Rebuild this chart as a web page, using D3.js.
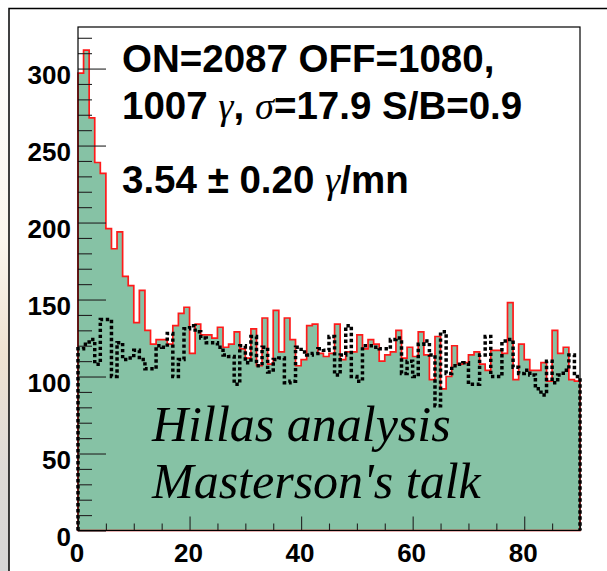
<!DOCTYPE html>
<meta charset="utf-8" />
<head>
  <script src="https://cdn.jsdelivr.net/npm/d3@7/dist/d3.min.js"></script>
  <title>Hillas analysis</title>
  <style>
    body {
      margin: 0;
      background: #fff;
    }
    svg {
      display: block;
    }
    .lab {
      font-family: "Liberation Sans", Arial, sans-serif;
      font-weight: bold;
      font-size: 26px;
      fill: #000;
    }
    .ann {
      font-family: "Liberation Sans", Arial, sans-serif;
      font-weight: bold;
      font-size: 38.5px;
    }
    .greek {
      font-family: "Liberation Serif", "Times New Roman", serif;
      font-style: italic;
      font-weight: normal;
    }
    .note {
      font-family: "Liberation Serif", "Times New Roman", serif;
      font-style: italic;
      font-size: 50px;
    }
  </style>
</head>
<body>
  <svg id="chart" width="607" height="571"></svg>
</body>

<script>
  // counts per bin, 90 bins of width 1 from 0 to 90
  const onCounts = [
    297, 312, 268, 239, 232, 196, 183, 194, 165, 159,
    135, 156, 130, 121, 124, 124, 121, 133, 141, 145,
    115, 134, 127, 127, 125, 132, 119, 121, 129, 118,
    112, 131, 107, 138, 108, 143, 116, 138, 124, 107,
    111, 133, 134, 115, 113, 115, 134, 111, 116, 116,
    127, 118, 124, 121, 110, 114, 116, 130, 112, 119,
    113, 129, 114, 98, 126, 92, 100, 120, 108, 109,
    114, 116, 108, 104, 117, 117, 115, 148, 98, 121,
    111, 104, 104, 109, 97, 130, 115, 119, 98, 97,
  ];
  const offCounts = [
    118, 121, 124, 108, 137, 137, 100, 122, 111, 112,
    117, 111, 105, 105, 120, 119, 128, 100, 111, 131,
    133, 129, 125, 122, 122, 119, 114, 113, 95, 120,
    109, 126, 107, 119, 103, 111, 112, 96, 97, 119,
    116, 114, 115, 118, 117, 126, 101, 114, 133, 100,
    97, 120, 120, 119, 118, 118, 124, 125, 102, 110,
    100, 121, 123, 114, 81, 129, 102, 107, 108, 109,
    95, 95, 114, 126, 100, 100, 123, 124, 106, 102,
    104, 101, 92, 88, 110, 96, 101, 104, 114, 100,
  ];
  const xRange = [0, 90];
  const yRange = [0, 327];
  const xMajor = [0, 20, 40, 60, 80];
  const xMinor = [5, 10, 15, 25, 30, 35, 45, 50, 55, 65, 70, 75, 85, 90];
  const yMajor = [0, 50, 100, 150, 200, 250, 300];
  const yMinor = [
    10, 20, 30, 40, 60, 70, 80, 90, 110, 120, 130, 140, 160, 170, 180, 190,
    210, 220, 230, 240, 260, 270, 280, 290, 310, 320,
  ];

  const svg = d3.select("#chart");
  const margin = { top: 27, right: 27, bottom: 40.5, left: 78 };
  const W = +svg.attr("width"),
    H = +svg.attr("height");

  const x = d3
    .scaleLinear()
    .domain(xRange)
    .range([margin.left, W - margin.right]);
  const y = d3
    .scaleLinear()
    .domain(yRange)
    .range([H - margin.bottom, margin.top]);

  // page / canvas frame
  const defs = svg.append("defs");
  const grad = defs
    .append("linearGradient")
    .attr("id", "side")
    .attr("x1", 0)
    .attr("y1", 0)
    .attr("x2", 0)
    .attr("y2", 1);
  grad.append("stop").attr("offset", "0%").attr("stop-color", "#ffffff");
  grad.append("stop").attr("offset", "42%").attr("stop-color", "#fbf6ee");
  grad.append("stop").attr("offset", "62%").attr("stop-color", "#efe3d2");
  grad.append("stop").attr("offset", "82%").attr("stop-color", "#dedad6");
  grad.append("stop").attr("offset", "100%").attr("stop-color", "#d6d6d6");

  svg.append("rect").attr("x", 0).attr("y", 0).attr("width", 9).attr("height", H).attr("fill", "url(#side)");
  svg
    .append("rect")
    .attr("x", 9)
    .attr("y", 8.5)
    .attr("width", W + 20)
    .attr("height", H + 20)
    .attr("fill", "#fff")
    .attr("stroke", "#000")
    .attr("stroke-width", 1.5);

  // histogram points (step after), closing bin edge at 90
  const toSteps = (arr) =>
    arr.map((v, i) => ({ x: i, v })).concat([{ x: xRange[1], v: arr[arr.length - 1] }]);
  const onSteps = toSteps(onCounts);
  const offSteps = toSteps(offCounts);

  const area = d3
    .area()
    .curve(d3.curveStepAfter)
    .x((d) => x(d.x))
    .y0(y(0))
    .y1((d) => y(d.v));

  svg.append("path").attr("d", area(onSteps)).attr("fill", "#86c2a5");

  const step = d3
    .line()
    .curve(d3.curveStepAfter)
    .x((d) => x(d.x))
    .y((d) => y(d.v));

  // red outline: down to zero at both ends and along the bottom
  const outline = [{ x: 0, v: 0 }].concat(onSteps, [{ x: xRange[1], v: 0 }]);
  svg
    .append("path")
    .attr("d", step(outline) + "Z")
    .attr("fill", "none")
    .attr("stroke", "#ff1a1a")
    .attr("stroke-width", 1.7);

  // OFF histogram, dotted
  const offLine = [{ x: 0, v: 0 }].concat(offSteps, [{ x: xRange[1], v: 0 }]);
  svg
    .append("path")
    .attr("d", step(offLine))
    .attr("fill", "none")
    .attr("stroke", "#000")
    .attr("stroke-width", 3.5)
    .attr("stroke-dasharray", "3.4,2.6");

  // ticks pointing inward
  const tickAxis = (axis, g) => {
    g.call(axis);
    g.select(".domain").remove();
    g.selectAll("line").attr("stroke", "#222").attr("stroke-width", 1.1);
  };
  tickAxis(
    d3.axisRight(y).tickValues(yMajor).tickSize(28).tickFormat(""),
    svg.append("g").attr("transform", `translate(${margin.left},0)`)
  );
  tickAxis(
    d3.axisRight(y).tickValues(yMinor).tickSize(14).tickFormat(""),
    svg.append("g").attr("transform", `translate(${margin.left},0)`)
  );
  tickAxis(
    d3.axisTop(x).tickValues(xMajor).tickSize(14).tickFormat(""),
    svg.append("g").attr("transform", `translate(0,${y(0)})`)
  );
  tickAxis(
    d3.axisTop(x).tickValues(xMinor).tickSize(7).tickFormat(""),
    svg.append("g").attr("transform", `translate(0,${y(0)})`)
  );

  // plot frame
  svg
    .append("rect")
    .attr("x", x(xRange[0]))
    .attr("y", y(yRange[1]))
    .attr("width", x(xRange[1]) - x(xRange[0]))
    .attr("height", y(0) - y(yRange[1]))
    .attr("fill", "none")
    .attr("stroke", "#000")
    .attr("stroke-width", 1.2);

  // tick labels
  const yLab = svg
    .append("g")
    .attr("transform", `translate(${margin.left},0)`)
    .call(d3.axisLeft(y).tickValues(yMajor).tickSize(0).tickPadding(7));
  yLab.select(".domain").remove();
  yLab.selectAll("text").attr("class", "lab").attr("dy", "0.58em");

  const xLab = svg
    .append("g")
    .attr("transform", `translate(0,${y(0)})`)
    .call(d3.axisBottom(x).tickValues(xMajor).tickSize(0).tickPadding(13));
  xLab.select(".domain").remove();
  xLab.selectAll("text").attr("class", "lab").attr("dx", "-0.06em");

  // annotations
  const t1 = svg.append("text").attr("class", "ann").attr("x", 122).attr("y", 72);
  t1.text("ON=2087 OFF=1080,");

  const t2 = svg.append("text").attr("class", "ann").attr("x", 122).attr("y", 119);
  t2.append("tspan").text("1007 ");
  t2.append("tspan").attr("class", "greek").text("γ");
  t2.append("tspan").text(", ");
  t2.append("tspan").attr("class", "greek").text("σ");
  t2.append("tspan").text("=17.9 S/B=0.9");

  const t3 = svg.append("text").attr("class", "ann").attr("x", 122).attr("y", 193);
  t3.append("tspan").text("3.54 ± 0.20 ");
  t3.append("tspan").attr("class", "greek").text("γ");
  t3.append("tspan").text("/mn");

  svg.append("text").attr("class", "note").attr("x", 152).attr("y", 441).text("Hillas analysis");
  svg.append("text").attr("class", "note").attr("x", 152).attr("y", 498).text("Masterson's talk");
</script>
